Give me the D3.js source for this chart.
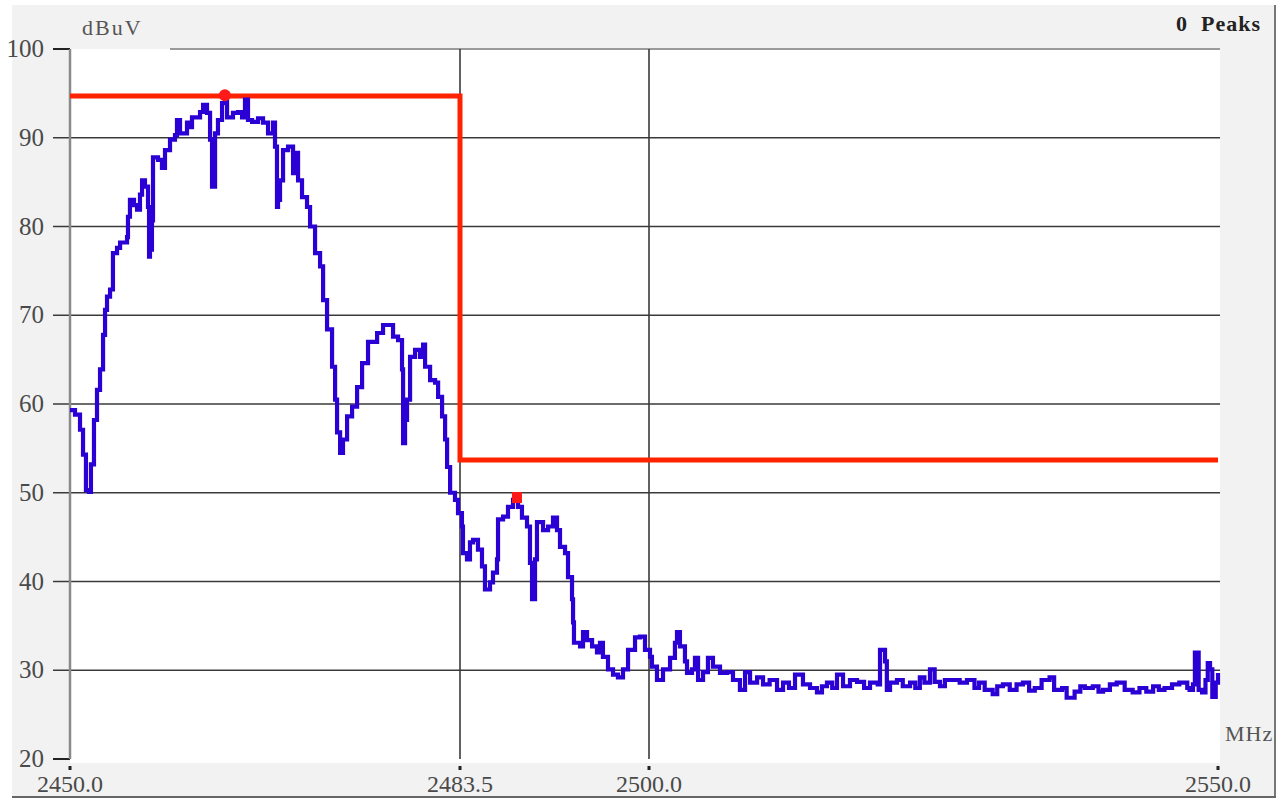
<!DOCTYPE html>
<html>
<head>
<meta charset="utf-8">
<script src="https://cdn.jsdelivr.net/npm/d3@7"></script>
<style>
  html, body { margin: 0; padding: 0; background: #ffffff; }
  svg { display: block; }
  text { font-family: "Liberation Serif", "DejaVu Serif", serif; }
</style>
</head>
<body>
<svg id="chart" width="1286" height="800"></svg>
<script>
// ---------- data ----------
const xTickValues = [2450, 2483.5, 2500, 2550];
const xTickLabels = ["2450.0", "2483.5", "2500.0", "2550.0"];
const yTickValues = [20, 30, 40, 50, 60, 70, 80, 90, 100];
const yGridValues = [30, 40, 50, 60, 70, 80, 90];
const xGridValues = [2483.5, 2500];

const limitFreq  = [2450, 2483.5, 2483.5, 2550];
const limitLevel = [94.7, 94.7, 53.7, 53.7];

const markerPeak = [2463.3, 94.8];
const markerBand = [2488.3, 49.4];

const trace = [
  [2450.0,59.3],[2450.43,58.8],[2450.86,57.1],[2451.12,54.3],[2451.37,50.3],[2451.63,50.1],
  [2451.80,53.2],[2452.06,58.2],[2452.32,61.6],[2452.58,63.9],[2452.84,67.8],[2453.01,70.6],
  [2453.18,72.1],[2453.44,72.9],[2453.69,77.0],[2454.04,77.6],[2454.30,78.2],[2454.90,78.8],
  [2454.98,81.1],[2455.15,83.0],[2455.50,82.4],[2455.76,81.9],[2456.01,83.6],[2456.19,85.2],
  [2456.44,84.5],[2456.70,82.2],[2456.79,76.6],[2456.87,77.4],[2457.04,80.7],[2457.13,87.8],
  [2457.56,87.5],[2457.90,86.6],[2458.16,88.6],[2458.59,89.8],[2459.02,90.3],[2459.19,92.0],
  [2459.45,90.5],[2460.05,91.7],[2460.31,91.2],[2460.48,92.3],[2460.91,92.3],[2461.17,92.9],
  [2461.43,93.7],[2461.77,92.8],[2462.03,89.8],[2462.20,84.5],[2462.37,84.5],[2462.46,90.5],
  [2462.71,92.0],[2463.06,93.9],[2463.32,95.0],[2463.49,92.3],[2464.00,92.8],[2464.43,92.9],
  [2464.78,92.3],[2465.03,94.3],[2465.29,92.0],[2465.64,91.8],[2466.15,92.2],[2466.58,91.7],
  [2467.01,90.5],[2467.44,91.7],[2467.61,89.0],[2467.78,82.2],[2467.87,83.0],[2468.04,85.2],
  [2468.30,88.6],[2468.73,89.0],[2469.16,86.0],[2469.50,88.3],[2469.59,85.2],[2469.93,83.3],
  [2470.36,82.2],[2470.62,80.0],[2471.05,77.0],[2471.48,75.5],[2471.74,71.7],[2472.08,68.4],
  [2472.51,64.2],[2472.77,60.5],[2472.94,56.8],[2473.20,54.5],[2473.45,56.0],[2473.80,58.6],
  [2474.23,59.7],[2474.66,61.9],[2475.09,64.6],[2475.60,67.0],[2476.38,68.0],[2476.89,68.9],
  [2477.32,68.9],[2477.75,67.6],[2478.18,67.2],[2478.52,63.9],[2478.61,55.6],[2478.78,58.2],
  [2478.95,60.5],[2479.21,65.3],[2479.64,66.1],[2480.07,65.3],[2480.33,66.7],[2480.50,64.2],
  [2480.93,62.7],[2481.36,62.4],[2481.62,60.8],[2481.96,58.6],[2482.22,56.0],[2482.39,52.9],
  [2482.65,50.0],[2483.07,49.2],[2483.33,47.7],[2483.67,46.2],[2483.76,43.2],[2484.11,42.5],
  [2484.37,44.4],[2484.64,44.7],[2485.07,43.6],[2485.42,41.7],[2485.68,39.1],[2486.12,39.9],
  [2486.38,41.0],[2486.73,42.5],[2486.82,47.0],[2487.26,47.3],[2487.69,48.4],[2488.13,49.2],
  [2488.57,48.4],[2488.91,47.2],[2489.35,46.2],[2489.61,42.1],[2489.79,38.0],[2490.05,42.5],
  [2490.22,46.7],[2490.75,45.8],[2491.19,46.2],[2491.62,47.2],[2491.97,45.8],[2492.23,43.9],
  [2492.67,43.2],[2492.93,40.5],[2493.28,38.0],[2493.37,35.4],[2493.45,33.1],[2493.98,32.7],
  [2494.24,34.3],[2494.59,33.4],[2495.03,32.7],[2495.46,32.0],[2495.72,33.1],[2495.98,31.5],
  [2496.42,30.1],[2496.86,29.5],[2497.29,29.2],[2497.73,30.1],[2498.17,32.3],[2498.78,33.7],
  [2499.21,33.8],[2499.65,32.3],[2500.09,31.5],[2500.26,30.4],[2500.70,28.9],[2501.23,30.1],
  [2501.85,31.4],[2502.28,33.1],[2502.46,34.3],[2502.72,32.7],[2503.16,31.0],[2503.34,29.7],
  [2503.78,30.1],[2504.04,31.4],[2504.31,28.9],[2504.75,29.8],[2505.18,31.4],[2505.62,30.4],
  [2506.24,29.7],[2506.85,29.8],[2507.38,28.9],[2507.99,27.8],[2508.44,29.8],[2508.88,28.6],
  [2509.5,29.2],[2510.02,28.4],[2510.6,28.9],[2511.25,27.8],[2511.78,28.6],[2512.3,28.0],
  [2512.83,29.5],[2513.53,28.4],[2514.15,28.0],[2514.76,27.5],[2515.2,28.2],[2515.64,28.6],
  [2516.1,28.0],[2516.52,29.5],[2517.05,28.2],[2517.66,28.9],[2518.28,28.7],[2518.9,28.0],
  [2519.42,28.6],[2520.1,28.4],[2520.30,32.3],[2520.65,32.3],[2520.74,31.0],[2520.9,27.8],
  [2521.18,28.6],[2521.79,28.9],[2522.3,28.2],[2522.94,28.6],[2523.4,28.0],[2523.8,29.2],
  [2524.2,28.6],[2524.69,30.1],[2525.1,28.7],[2525.57,28.2],[2526.0,28.9],[2526.45,28.9],
  [2527.3,28.6],[2527.94,28.9],[2528.6,28.0],[2529.0,28.6],[2529.5,27.8],[2530.2,27.3],
  [2530.6,28.2],[2531.1,28.4],[2531.7,27.8],[2532.3,28.4],[2532.86,28.6],[2533.4,27.7],
  [2533.9,28.0],[2534.5,28.9],[2535.2,29.2],[2535.6,27.8],[2536.3,28.0],[2536.7,26.9],
  [2537.4,27.6],[2537.9,28.2],[2538.3,28.0],[2539.0,28.2],[2539.5,27.6],[2539.9,27.8],
  [2540.5,28.4],[2541.1,28.6],[2541.8,27.8],[2542.5,27.5],[2543.1,28.0],[2543.7,27.6],
  [2544.3,28.2],[2544.8,27.8],[2545.3,28.0],[2545.96,28.4],[2546.6,28.6],[2547.3,28.0],
  [2547.5,27.8],[2547.8,28.4],[2547.97,32.0],[2548.15,32.0],[2548.3,27.8],[2548.6,27.5],
  [2548.9,28.9],[2549.1,30.8],[2549.3,30.1],[2549.5,27.0],[2549.8,28.6],[2550.0,29.7]
];

// ---------- layout ----------
const svg = d3.select("#chart");

const x = d3.scaleLinear()
  .domain([2450, 2483.5, 2500, 2550])
  .range([70, 460, 649, 1218]);
const y = d3.scaleLinear().domain([20, 100]).range([759, 49]);

const plotLeft = 70, plotRight = 1220, plotTop = 49, plotBottom = 763;

// outer panel
svg.append("rect").attr("x", 12).attr("y", 5).attr("width", 1263).attr("height", 792)
  .attr("fill", "#f2f2f2");
svg.append("line").attr("x1", 1275).attr("x2", 1275).attr("y1", 5).attr("y2", 798)
  .attr("stroke", "#777").attr("stroke-width", 2);

// plot area
svg.append("rect").attr("x", plotLeft).attr("y", plotTop)
  .attr("width", plotRight - plotLeft).attr("height", plotBottom - plotTop)
  .attr("fill", "#ffffff");

// top border line (100 dB)
svg.append("line").attr("x1", 170).attr("x2", plotRight)
  .attr("y1", y(100)).attr("y2", y(100))
  .attr("stroke", "#9a9a9a").attr("stroke-width", 2);

// horizontal grid lines (extend left as ticks)
svg.append("g").selectAll("line").data(yGridValues).join("line")
  .attr("x1", 53).attr("x2", plotRight)
  .attr("y1", d => y(d)).attr("y2", d => y(d))
  .attr("stroke", "#3a3a3a").attr("stroke-width", 1.6);

// y ticks for 100 and 20 (short)
svg.append("g").selectAll("line").data([20, 100]).join("line")
  .attr("x1", 53).attr("x2", plotLeft)
  .attr("y1", d => y(d)).attr("y2", d => y(d))
  .attr("stroke", "#222").attr("stroke-width", 2);

// vertical grid lines
svg.append("g").selectAll("line").data(xGridValues).join("line")
  .attr("x1", d => x(d)).attr("x2", d => x(d))
  .attr("y1", plotTop).attr("y2", y(20))
  .attr("stroke", "#3a3a3a").attr("stroke-width", 1.6);

// left axis line
svg.append("line").attr("x1", plotLeft).attr("x2", plotLeft)
  .attr("y1", plotTop).attr("y2", y(20))
  .attr("stroke", "#8a8a8a").attr("stroke-width", 2.5);

// y tick labels
svg.append("g").selectAll("text").data(yTickValues).join("text")
  .attr("x", 44).attr("y", d => y(d) + 8)
  .attr("text-anchor", "end")
  .attr("font-size", 25).attr("fill", "#4a4a4a")
  .text(d => d);

// x tick dots and labels
svg.append("g").selectAll("rect").data(xTickValues).join("rect")
  .attr("x", d => x(d) - 1.5).attr("y", 766).attr("width", 3).attr("height", 4)
  .attr("fill", "#222");
svg.append("g").selectAll("text").data(xTickValues).join("text")
  .attr("x", d => x(d)).attr("y", 792)
  .attr("text-anchor", "middle")
  .attr("font-size", 24).attr("fill", "#4a4a4a")
  .text((d, i) => xTickLabels[i]);

// bottom border
svg.append("line").attr("x1", 12).attr("x2", 1276).attr("y1", 797).attr("y2", 797)
  .attr("stroke", "#666").attr("stroke-width", 2);

// unit labels
svg.append("text").attr("x", 82).attr("y", 35)
  .attr("font-size", 22).attr("letter-spacing", 2).attr("fill", "#555")
  .text("dBuV");
svg.append("text").attr("x", 1261).attr("y", 31)
  .attr("text-anchor", "end")
  .attr("font-size", 22).attr("font-weight", "bold").attr("letter-spacing", 1).attr("fill", "#222")
  .attr("xml:space", "preserve")
  .text("0  Peaks");
svg.append("text").attr("x", 1225).attr("y", 741)
  .attr("font-size", 22).attr("letter-spacing", 1).attr("fill", "#555")
  .text("MHz");

// limit line
const limitData = limitFreq.map((f, i) => [f, limitLevel[i]]);
svg.append("path").datum(limitData)
  .attr("fill", "none").attr("stroke", "#ff2200").attr("stroke-width", 5)
  .attr("d", d3.line().x(d => x(d[0])).y(d => y(d[1])));

// trace
svg.append("path").datum(trace)
  .attr("fill", "none").attr("stroke", "#2a00d4").attr("stroke-width", 4.2)
  .attr("stroke-linejoin", "miter")
  .attr("d", d3.line().x(d => x(d[0])).y(d => y(d[1])).curve(d3.curveStepAfter));

// markers
svg.append("circle").attr("cx", x(markerPeak[0])).attr("cy", y(markerPeak[1])).attr("r", 6)
  .attr("fill", "#ff1a1a");
svg.append("rect").attr("x", x(markerBand[0]) - 3).attr("y", y(markerBand[1]) - 6)
  .attr("width", 10).attr("height", 11).attr("fill", "#ff1a1a");
</script>
</body>
</html>
